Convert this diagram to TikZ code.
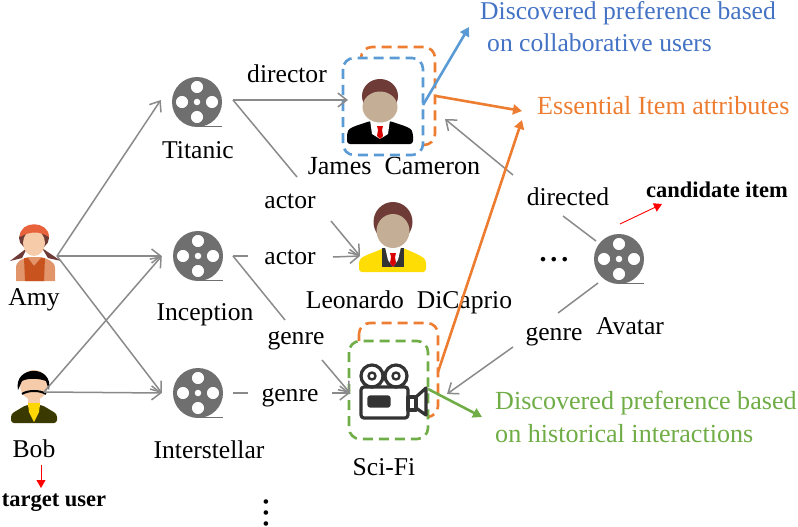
\documentclass[tikz,border=0pt]{standalone}
\usepackage{fontspec}
\setmainfont{Liberation Serif}
\usetikzlibrary{arrows.meta, calc}

\definecolor{reelgray}{HTML}{6F6F6F}
\definecolor{linkgray}{HTML}{8A8A8A}
\definecolor{prefblue}{HTML}{5B9BD5}
\definecolor{textblue}{HTML}{4472C4}
\definecolor{attrorange}{HTML}{ED7D31}
\definecolor{prefgreen}{HTML}{70AD47}
\definecolor{hairbrown}{HTML}{6E3B36}
\definecolor{skintone}{HTML}{C4AE96}
\definecolor{skinlight}{HTML}{F6CBAA}
\definecolor{capred}{HTML}{E8623C}
\definecolor{dressorange}{HTML}{C9531F}
\definecolor{jacketolive}{HTML}{3A3A00}

\tikzset{
	lbl/.style={font=\fontsize{25.6}{30}\selectfont, inner sep=0pt},
	widelbl/.style={font=\fontsize{26.1}{30}\selectfont, inner sep=0pt},
	note/.style={font=\fontsize{22.5}{26}\selectfont\bfseries, inner sep=0pt},
	dotrow/.style={font=\fontsize{28}{30}\selectfont\bfseries, inner sep=0pt},
	link/.style={draw=linkgray, line width=1.5pt},
	linkarrow/.style={link, -{Straight Barb[length=9pt,width=14pt,line width=1.5pt]}},
	hot/.style={line width=2.6pt, -{Triangle[length=9pt,width=10pt]}},
	redarrow/.style={draw=red, line width=0.9pt, -{Triangle[length=8pt,width=9pt]}},
	dashbox/.style={line width=2.6pt, rounded corners=11pt, dash pattern=on 10pt off 6pt},
	pics/reel/.style={code={
		\fill[reelgray, even odd rule] (0,0) circle (25)
			(0,-15) circle (6.2) (15,0) circle (6.2) (0,15) circle (6.2) (-15,0) circle (6.2)
			(0,0) circle (3.4);
		\draw[reelgray, line width=1.6pt] (0,24.5) -- (25,24.5);
	}},
}

\begin{document}
\begin{tikzpicture}[x=1pt,y=-1pt]
	\useasboundingbox (0,0) rectangle (798,527);

	% Reels
	\foreach \name/\cx/\cy in {titanic/197/102, inception/198/256, interstellar/198/393, avatar/619/259}{
		\pic at (\cx,\cy) {reel};
		\node (\name) [circle, minimum size=72pt, inner sep=0pt] at (\cx,\cy) {};
	}

	% Amy
	\fill[dressorange!45!skinlight] (16,281) -- (16,268) .. controls (16,261) and (22,259) .. (28,257) -- (41,257) .. controls (47,259) and (55,261) .. (55,268) -- (55,281) -- cycle;
	\fill[dressorange] (24,258) -- (28,258) -- (34,266) -- (41,258) -- (45,258) -- (44,281) -- (25,281) -- cycle;
	\fill[hairbrown] (27,248) -- (10,261) -- (22,258) -- cycle;
	\fill[hairbrown] (42,248) -- (61,261) -- (48,258) -- cycle;
	\fill[hairbrown] (34,238) ellipse (15 and 12);
	\fill[skinlight] (34,243) ellipse (11 and 13);
	\fill[capred] (20,237) .. controls (19,220) and (49,220) .. (49,237) .. controls (40,231) and (30,231) .. (20,237) -- cycle;
	% Bob
	\fill[jacketolive, rounded corners=3pt] (11,423) -- (11,414) -- (26,405) -- (42,405) -- (57,414) -- (57,423) -- cycle;
	\fill[skinlight] (28,395) rectangle (40,407);
	\fill[yellow!75!orange] (28,403) -- (40,403) -- (39,412) -- (34,422) -- (29,412) -- cycle;
	\fill[skinlight] (34,385) ellipse (14 and 15);
	\fill[black] (18,390) .. controls (13,365) and (54,364) .. (49,390) -- (46,381) .. controls (38,378) and (28,378) .. (22,381) -- cycle;
	\draw[black, line width=2pt] (22,394) .. controls (28,390) and (40,390) .. (46,394);

	\node (amy) [lbl] at (34,300) {Amy};
	\node (bob) [lbl] at (34,449) {Bob};
	\coordinate (amyout) at (57,256);
	\coordinate (bobout) at (44,392);
	\node (titaniclbl) [lbl] at (198,150) {Titanic};
	\node (inceptionlbl) [lbl] at (205,315) {Inception};
	\node (interstellarlbl) [lbl] at (209,450) {Interstellar};
	\node (avatarlbl) [lbl] at (630,326) {Avatar};

	% User to movie links
	\draw[linkarrow] (amyout) -- (titanic.west |- 0,100);
	\draw[linkarrow] (amyout) -- (inception.west);
	\draw[linkarrow] (amyout) -- (interstellar.west);
	\draw[linkarrow] (bobout) -- (inception.west);
	\draw[linkarrow] (bobout) -- (interstellar.west);

	% Orange boxes sit behind the others
	\draw[attrorange, dashbox] (361,47) rectangle (435,145);
	\draw[attrorange, dashbox] (359,323) rectangle (438,417);
	\fill[white, rounded corners=11pt] (343,58) rectangle (423,155);
	\fill[white, rounded corners=11pt] (349,341) rectangle (428,439);
	\draw[prefblue, dashbox] (343,58) rectangle (423,155);
	\draw[prefgreen, dashbox] (349,341) rectangle (428,439);

	% James
	\fill[black, rounded corners=3pt] (347,144) -- (347,133) .. controls (350,127) and (362,124) .. (370,121) -- (390,121) .. controls (398,124) and (410,127) .. (413,133) -- (413,144) -- cycle;
	\fill[white] (370,120) -- (390,120) -- (388,134) -- (380,139) -- (372,134) -- cycle;
	\fill[red!85!black] (377,126) -- (383,126) -- (382,130) -- (383,136) -- (380,139) -- (377,136) -- (378,130) -- cycle;
	\fill[hairbrown] (380,96) ellipse (18 and 17);
	\fill[skintone] (380,107) ellipse (17.5 and 15.5);
	\node (jameslbl) [widelbl] at (394,166) {James\ \ Cameron};

	% Leonardo
	\fill[yellow!80!orange, rounded corners=3pt] (359,272) -- (359,260) .. controls (365,255) and (378,251) .. (383,248) -- (403,248) .. controls (410,251) and (420,255) .. (426,260) -- (426,272) -- cycle;
	\fill[black!80] (382,248) rectangle (404,267);
	\fill[white] (385,247) -- (401,247) -- (398,260) -- (393,267) -- (388,260) -- cycle;
	\fill[red!85!black] (390,253) -- (396,253) -- (395,257) -- (396,263) -- (393,267) -- (390,263) -- (391,257) -- cycle;
	\fill[hairbrown] (393,222) ellipse (19.5 and 20);
	\fill[skintone] (393,231) ellipse (16.5 and 17);
	\node (leolbl) [lbl] at (409,302) {Leonardo\ \ DiCaprio};
	\coordinate (leoin) at (360,256);

	% Camera
	\begin{scope}[draw=black!80, line width=3.2pt, line join=round]
		\draw (372,376) circle (11);
		\draw (396,376) circle (11);
		\draw[line width=2.4pt] (372,376) circle (3.5);
		\draw[line width=2.4pt] (396,376) circle (3.5);
		\draw[rounded corners=3pt] (361,387) rectangle (408,418);
		\fill[black!80, rounded corners=1pt, draw=black!80] (369,397) rectangle (389,406);
		\draw (408,397) rectangle (416,410);
		\draw (416,397) -- (426,388) -- (426,415) -- (416,408) -- cycle;
	\end{scope}
	\node (scifilbl) [lbl] at (384,467) {Sci-Fi};
	\coordinate (scifiin) at (350,393);
	\coordinate (scifiright) at (447,394);

	% Relation labels
	\node (director) [lbl] at (287,74) {director};
	\node (actortop) [lbl] at (290,201) {actor};
	\node (actormid) [lbl] at (290,257) {actor};
	\node (genretop) [lbl] at (296,341) {genre};
	\node (genrelow) [lbl] at (290,398) {genre};
	\node (directed) [lbl] at (568,197) {directed};
	\node (genreav) [lbl] at (554,337) {genre};

	% Split links
	\coordinate (titanicout) at (233,100);
	\coordinate (inceptionout) at (233,256);
	\draw[linkarrow] (titanicout) -- (348,100);
	\coordinate (actortopa) at (297,177);
	\coordinate (actortopb) at (331,221);
	\draw[link] (titanicout) -- (actortopa);
	\draw[linkarrow] (actortopb) -- (leoin);
	\draw[link] (inceptionout) -- (248,256);
	\draw[linkarrow] (333,257) -- (leoin);
	\coordinate (genretopa) at (285,320);
	\coordinate (genretopb) at (322,360);
	\draw[link] (inceptionout) -- (genretopa);
	\draw[linkarrow] (genretopb) -- (scifiin);
	\coordinate (interout) at (233,393);
	\draw[link] (interout) -- (248,393);
	\draw[linkarrow] (332,393) -- (scifiin);
	\coordinate (directeda) at (563,216);
	\coordinate (avtop) at (596,241);
	\draw[link] (avtop) -- (directeda);
	\coordinate (directedb) at (513,175);
	\draw[linkarrow] (directedb) -- (445,119);
	\coordinate (avlow) at (598,283);
	\coordinate (genreava) at (558,313);
	\draw[link] (avlow) -- (genreava);
	\coordinate (genreavb) at (513,347);
	\draw[linkarrow] (genreavb) -- (scifiright);

	% Coloured arrows and their texts
	\node (collab) [lbl, anchor=west, text=textblue] at (480,13.5) {Discovered preference based};
	\node (collabb) [lbl, anchor=west, text=textblue] at (487,43) {on collaborative users};
	\node (essential) [widelbl, anchor=west, text=attrorange] at (537,106) {Essential Item attributes};
	\node (hist) [widelbl, anchor=west, text=prefgreen] at (495,403) {Discovered preference based};
	\node (histb) [widelbl, anchor=west, text=prefgreen] at (495,434) {on historical interactions};
	\coordinate (blueout) at (423,105);
	\coordinate (bluetip) at (469,27);
	\coordinate (orangeout) at (436,96);
	\coordinate (orangetip) at (522,111);
	\coordinate (orangelow) at (438,372);
	\coordinate (orangeup) at (522,120);
	\coordinate (greenout) at (428,389);
	\coordinate (greentip) at (482,417);
	\draw[hot, prefblue] (blueout) -- (bluetip);
	\draw[hot, attrorange] (orangeout) -- (orangetip);
	\draw[hot, attrorange] (orangelow) -- (orangeup);
	\draw[hot, prefgreen] (greenout) -- (greentip);

	% Notes
	\node (candidate) [note] at (717,190) {candidate item};
	\coordinate (candfrom) at (620,224);
	\draw[redarrow] (candfrom) -- (662,204);
	\node (target) [note] at (54,503) {target user};
	\coordinate (targetfrom) at (41,465);
	\draw[redarrow] (targetfrom) -- (41,488);
	\node (dotsright) [dotrow] at (554,260) {.\hspace{4pt}.\hspace{4pt}.};
	\node (dotsdown) [dotrow, rotate=-90] at (266,513) {.\hspace{4pt}.\hspace{4pt}.};
\end{tikzpicture}
\end{document}
